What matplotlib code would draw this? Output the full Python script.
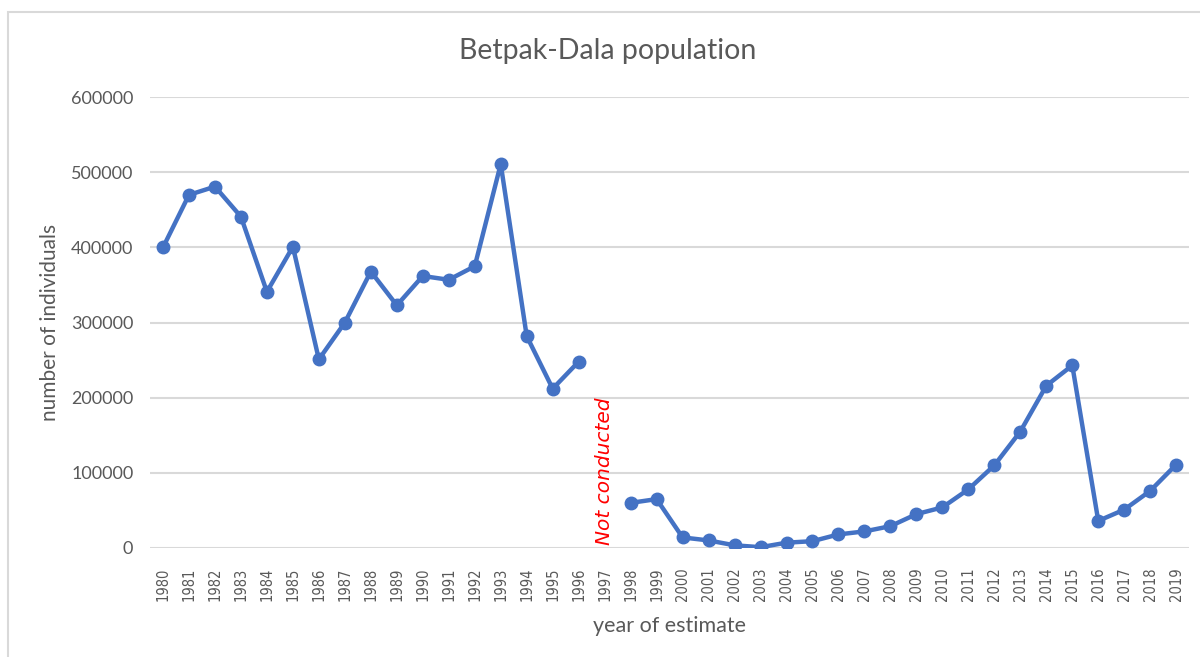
import matplotlib
matplotlib.use("Agg")
from matplotlib import pyplot as plt
from matplotlib.patches import Rectangle

years = list(range(1980, 2020))
population = [
    400000, 470000, 481000, 441000, 341000, 401000, 251000, 300000, 368000, 323000,
    362000, 357000, 375000, 511000, 282000, 212000, 248000, None, 60000, 65000,
    14000, 10000, 3500, 1000, 7000, 9000, 18000, 22000, 29000, 45000,
    54000, 78000, 110000, 155000, 216000, 243000, 36000, 51000, 76000, 111000,
]
y_ticks = [0, 100000, 200000, 300000, 400000, 500000, 600000]
gap_label = "Not conducted"

blue = "#4472C4"
grey_text = "#595959"
grid = "#D9D9D9"

fig = plt.figure(figsize=(12, 6.57), dpi=100)
ax = fig.add_axes([0.125, 0.166, 0.866, 0.686])

# chart frame like a spreadsheet chart box
fig.patches.append(Rectangle((0.007, -0.1), 1.1, 0.1 + 1 - 12 / 657, transform=fig.transFigure,
                             fill=False, edgecolor=grid, linewidth=1.5))

x = list(range(len(years)))
yy = [float("nan") if v is None else v for v in population]
ax.plot(x, yy, color=blue, linewidth=3.2, marker="o", markersize=9, zorder=3)

gap_idx = population.index(None)
ax.text(gap_idx, 4000, gap_label, rotation=90, ha="center", va="bottom",
        color="red", fontsize=14.5, style="italic", family="DejaVu Sans")

ax.set_xlim(-0.5, len(years) - 0.5)
ax.set_ylim(0, 600000)
ax.set_xticks(x)
ax.set_xticklabels([str(y) for y in years], rotation=90, family="DejaVu Sans",
                   fontstretch="condensed", fontsize=10.5, color=grey_text)
ax.set_yticks(y_ticks)
ax.set_yticklabels([str(v) for v in y_ticks], family="Lato", fontsize=13, color=grey_text)
ax.tick_params(axis="both", length=0)
ax.tick_params(axis="y", pad=12)
ax.tick_params(axis="x", pad=14)

ax.grid(axis="y", color=grid, linewidth=1.5)
ax.set_axisbelow(True)
for s in ax.spines.values():
    s.set_visible(False)

fig.text(0.506, 1 - 51 / 657, "Betpak-Dala population", family="Lato", fontsize=20.5,
         color=grey_text, ha="center", va="center")
ax.set_ylabel("number of individuals", family="Lato", fontsize=15, color=grey_text, labelpad=8)
ax.set_xlabel("year of estimate", family="Lato", fontsize=15.5, color=grey_text, labelpad=11)

fig.savefig("out.png", dpi=100)
